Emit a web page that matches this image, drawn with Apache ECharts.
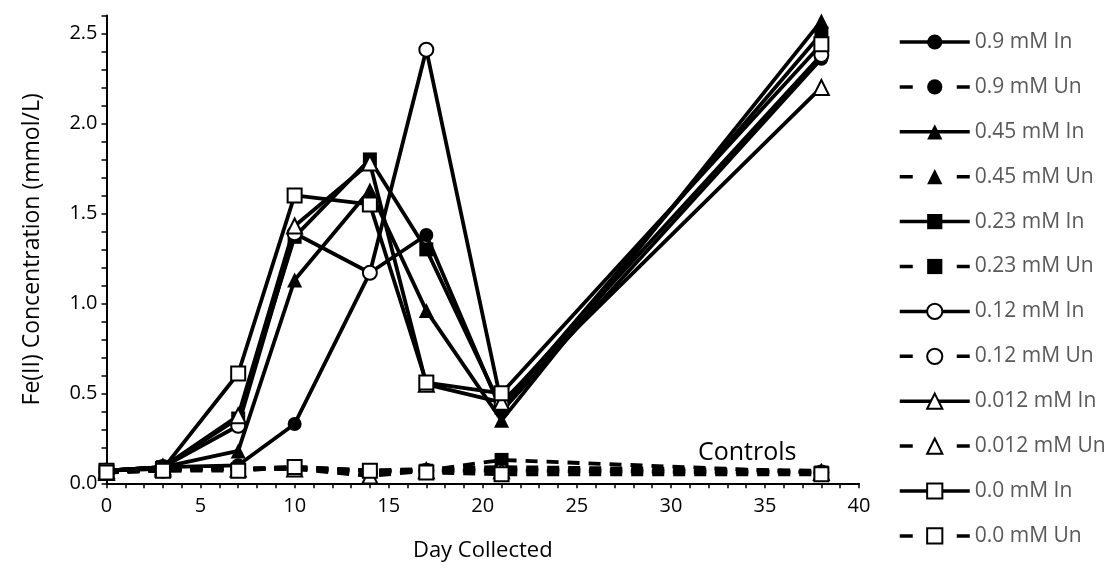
<!DOCTYPE html>
<html>
<head>
<meta charset="utf-8">
<title>Fe(II) Concentration</title>
<script src="https://cdn.jsdelivr.net/npm/echarts@6/dist/echarts.min.js"></script>
<style>
  html, body { margin: 0; padding: 0; background: #fff; }
  #chart { width: 1110px; height: 569px; }
</style>
</head>
<body>
<div id="chart"></div>
<script>
// sampling days
const days = [0, 3, 7, 10, 14, 17, 21, 38];

// inoculated (solid) and uninoculated (dashed) runs, mmol/L
const in090 = [0.07, 0.09, 0.10, 0.33, 1.17, 1.38, 0.40, 2.36];
const un090 = [0.06, 0.08, 0.08, 0.09, 0.07, 0.07, 0.08, 0.06];
const in045 = [0.07, 0.09, 0.18, 1.13, 1.63, 0.96, 0.35, 2.57];
const un045 = [0.06, 0.08, 0.08, 0.09, 0.07, 0.08, 0.09, 0.07];
const in023 = [0.07, 0.09, 0.36, 1.37, 1.80, 1.30, 0.42, 2.50];
const un023 = [0.06, 0.08, 0.08, 0.08, 0.07, 0.07, 0.13, 0.06];
const in012 = [0.07, 0.09, 0.32, 1.39, 1.17, 2.41, 0.44, 2.38];
const un012 = [0.06, 0.07, 0.08, 0.08, 0.06, 0.07, 0.07, 0.06];
const in0012 = [0.07, 0.09, 0.375, 1.43, 1.78, 0.55, 0.45, 2.20];
const un0012 = [0.06, 0.08, 0.08, 0.08, 0.04, 0.07, 0.07, 0.06];
const in000 = [0.07, 0.08, 0.61, 1.60, 1.55, 0.56, 0.50, 2.44];
const un000 = [0.06, 0.07, 0.07, 0.09, 0.07, 0.06, 0.05, 0.05];

const seriesDefs = [
  { name: "0.9 mM In", data: in090, symbol: "circle", filled: true, dashed: false },
  { name: "0.9 mM Un", data: un090, symbol: "circle", filled: true, dashed: true },
  { name: "0.45 mM In", data: in045, symbol: "triangle", filled: true, dashed: false },
  { name: "0.45 mM Un", data: un045, symbol: "triangle", filled: true, dashed: true },
  { name: "0.23 mM In", data: in023, symbol: "rect", filled: true, dashed: false },
  { name: "0.23 mM Un", data: un023, symbol: "rect", filled: true, dashed: true },
  { name: "0.12 mM In", data: in012, symbol: "circle", filled: false, dashed: false },
  { name: "0.12 mM Un", data: un012, symbol: "circle", filled: false, dashed: true },
  { name: "0.012 mM In", data: in0012, symbol: "triangle", filled: false, dashed: false },
  { name: "0.012 mM Un", data: un0012, symbol: "triangle", filled: false, dashed: true },
  { name: "0.0 mM In", data: in000, symbol: "rect", filled: false, dashed: false },
  { name: "0.0 mM Un", data: un000, symbol: "rect", filled: false, dashed: true }
];

const font = "'Open Sans', 'Noto Sans', sans-serif";

const series = seriesDefs.map(d => ({
  name: d.name,
  type: "line",
  data: days.map((x, i) => [x, d.data[i]]),
  symbol: d.symbol,
  symbolSize: d.symbol === "triangle" ? 15 : 14,
  showSymbol: true,
  animation: false,
  lineStyle: {
    color: "#000",
    width: 3.8,
    type: d.dashed ? [12, 9] : "solid"
  },
  itemStyle: {
    color: d.filled ? "#000" : "#fff",
    borderColor: "#000",
    borderWidth: d.filled ? 0 : 2
  },
  emphasis: { disabled: true }
}));

// legend entries: dashed ones get a short dash on each side of the marker
const legendData = seriesDefs.map(d => ({
  name: d.name,
  lineStyle: { type: d.dashed ? [13, 44] : "solid", width: 3.5, color: "#000" }
}));

const chart = echarts.init(document.getElementById("chart"), null, { renderer: "canvas" });

chart.setOption({
  animation: false,
  backgroundColor: "#fff",
  grid: { left: 106.5, right: 251, top: 15.5, bottom: 85.7, containLabel: false },
  legend: {
    orient: "vertical",
    left: 898,
    top: 31.5,
    padding: 0,
    itemWidth: 70,
    itemHeight: 19,
    itemGap: 23.9,
    textStyle: { color: "#595959", fontSize: 21, fontFamily: font, lineHeight: 20 },
    data: legendData
  },
  xAxis: {
    type: "value",
    min: 0,
    max: 40,
    interval: 1,
    name: "Day Collected",
    nameLocation: "middle",
    nameGap: 56,
    nameTextStyle: { color: "#000", fontSize: 22, fontFamily: font },
    axisLine: { show: true, lineStyle: { color: "#000", width: 2 } },
    axisTick: { show: true, length: 5, lineStyle: { color: "#000", width: 1.5 } },
    axisLabel: {
      color: "#000",
      fontSize: 20,
      fontFamily: font,
      margin: 13,
      formatter: v => (Math.round(v) % 5 === 0 ? String(Math.round(v)) : "")
    },
    splitLine: { show: false }
  },
  yAxis: {
    type: "value",
    min: 0,
    max: 2.6,
    interval: 0.1,
    name: "Fe(II) Concentration (mmol/L)",
    nameLocation: "middle",
    nameGap: 63,
    nameTextStyle: { color: "#000", fontSize: 23, fontFamily: font },
    axisLine: { show: true, lineStyle: { color: "#000", width: 2 } },
    axisTick: { show: true, length: 5, lineStyle: { color: "#000", width: 1.5 } },
    axisLabel: {
      color: "#000",
      fontSize: 20,
      fontFamily: font,
      margin: 9,
      formatter: v => (Math.round(v * 10) % 5 === 0 ? v.toFixed(1) : "")
    },
    splitLine: { show: false }
  },
  graphic: [{
    type: "text",
    left: 698,
    top: 440,
    style: { text: "Controls", fill: "#000", fontSize: 25, fontFamily: font }
  }],
  series: series
});
</script>
</body>
</html>
